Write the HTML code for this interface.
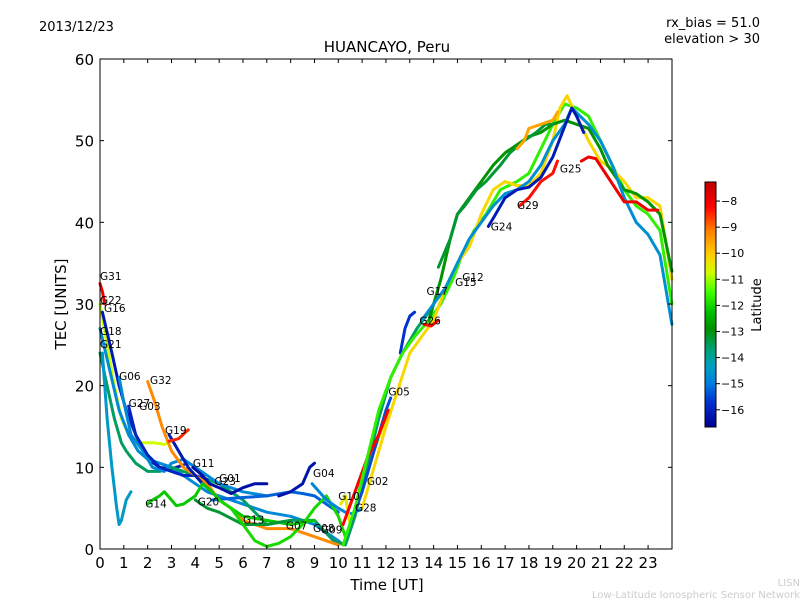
<!DOCTYPE html>
<html><head><meta charset="utf-8">
<style>
body{margin:0;background:#fff;}
svg{display:block;font-family:"DejaVu Sans","Liberation Sans",sans-serif;}
</style></head>
<body>
<svg id="chart" width="800" height="600" viewBox="0 0 800 600">
<defs>
<linearGradient id="cbar" x1="0" y1="1" x2="0" y2="0">
<stop offset="0" stop-color="#000090"/>
<stop offset="0.1" stop-color="#0030d0"/>
<stop offset="0.18" stop-color="#0080e0"/>
<stop offset="0.25" stop-color="#00a0c0"/>
<stop offset="0.32" stop-color="#00a070"/>
<stop offset="0.4" stop-color="#009000"/>
<stop offset="0.47" stop-color="#00c000"/>
<stop offset="0.55" stop-color="#40ff00"/>
<stop offset="0.63" stop-color="#d0ff00"/>
<stop offset="0.7" stop-color="#ffd000"/>
<stop offset="0.8" stop-color="#ff8000"/>
<stop offset="0.9" stop-color="#ff0000"/>
<stop offset="1" stop-color="#c00000"/>
</linearGradient>
</defs>
<text x="39" y="31" font-size="13">2013/12/23</text>
<text x="760" y="27" font-size="13" text-anchor="end">rx_bias = 51.0</text>
<text x="760" y="43" font-size="13" text-anchor="end">elevation &gt; 30</text>
<text x="387" y="52" font-size="15" text-anchor="middle">HUANCAYO, Peru</text>
<g id="marks"></g>
<g id="axes"></g>
<rect x="100" y="59" width="572" height="490" fill="none" stroke="#000" stroke-width="1"/>
<text x="387" y="590" font-size="15" text-anchor="middle">Time [UT]</text>
<text transform="translate(66,304) rotate(-90)" font-size="15" text-anchor="middle">TEC [UNITS]</text>
<rect x="705" y="182" width="11" height="245" fill="url(#cbar)" stroke="#000" stroke-width="1"/>
<g id="cbticks"></g>
<text transform="translate(761,305) rotate(-90)" font-size="13" text-anchor="middle">Latitude</text>
<text x="800" y="586" font-size="10" fill="#ccc" text-anchor="end">LISN</text>
<text x="800" y="598" font-size="10" fill="#ccc" text-anchor="end">Low-Latitude Ionospheric Sensor Network</text>
</svg>
<script>
const xTicks=[0,1,2,3,4,5,6,7,8,9,10,11,12,13,14,15,16,17,18,19,20,21,22,23];
const yTicks=[0,10,20,30,40,50,60];
const cbTicks=[-8,-9,-10,-11,-12,-13,-14,-15,-16];
const seriesLat=[-10.8,-16.2,-14.8,-13.6,-14.5,-14.8,-16.0,-15.3,-9.3,-16.2,-8.5,-12.2,-16.4,-13.3,-12.0,-16.3,-14.9,-10.5,-15.5,-8.2,-15.8,-11.7,-10.2,-12.9,-14.7,-13.3,-8.3,-16.2,-9.6,-8.0,-8.0,-8.3];
const seriesPts=[
[[0,30],[0.3,25],[0.6,20],[0.9,16],[1.2,14],[1.7,13],[2.3,13],[2.7,12.8],[3,13.2]],
[[0.1,29],[0.5,24],[0.8,20],[1.1,17],[1.5,14],[2,11],[2.5,10],[3,9.8],[3.5,10.3]],
[[0,27],[0.4,22],[0.8,17],[1.2,14],[1.6,12],[2,11],[2.5,10.5],[3,10],[3.5,9],[4,8],[4.5,7],[5,6.5],[6,5.5],[7,4.5],[8,4],[9,3],[10,1],[10.2,0.5]],
[[0,24],[0.3,20],[0.6,16],[0.9,13],[1.1,12],[1.5,10.5],[2,9.5],[2.5,9.5],[3,10],[3.5,9.5],[4,9],[5,8],[6,6],[7,3],[8,3.5],[9,3.5],[9.8,1],[10.3,0.5],[10.7,4],[11.2,10],[11.7,16],[12.2,21],[12.7,24],[13.3,27],[13.8,29]],
[[0.1,24],[0.3,16],[0.5,10],[0.7,5],[0.8,3],[0.9,3.5],[1.1,6],[1.3,7]],
[[0.8,21],[1,18],[1.3,14],[1.8,12],[2.2,10],[2.7,9.5],[3,10.5],[3.5,11],[4,10],[4.5,9],[5,8],[6,7],[7,6.5]],
[[1.2,17.5],[1.5,14],[2,11.5],[2.5,10],[3,9.5],[3.5,9],[4,9],[4.5,8.5]],
[[4.7,6],[5.5,6.2],[6,6.3],[7,6.5],[8,7],[8.5,6.8],[9,6.5],[9.5,5.5],[10,4.5]],
[[2,20.5],[2.3,18],[2.6,15],[3,12],[3.5,10],[4,9],[4.5,8],[5,6],[5.5,5],[6,3.5],[7,2.5],[8,2.5],[9,1.5],[10,0.5]],
[[2.9,14],[3.3,12],[3.7,10],[4,9],[4.3,8],[4.7,7]],
[[2.9,13.2],[3.3,13.5],[3.7,14.6]],
[[2,5.5],[2.2,6],[2.5,6.5],[2.7,7],[3,6],[3.2,5.3],[3.5,5.5],[4,6.5],[4.3,8],[4.7,7],[5,6],[5.5,5],[6,4],[7,3.5],[8,3],[9,3.5]],
[[3.9,10],[4.3,9],[4.6,8],[5,7.5],[5.5,6.8],[6,7.5],[6.5,8],[7,8]],
[[4,6],[4.5,5],[5,4.5],[6,3],[7,3],[8,3.5]],
[[5,6],[5.5,5],[6,3],[6.5,1],[7,0.3],[7.5,0.7],[8,1.5],[8.5,3],[9,5],[9.5,6.5],[10,4],[10.3,1.5]],
[[7.5,6.5],[8,7],[8.5,8],[8.8,10],[9,10.5]],
[[8.9,8],[9.2,7],[9.5,6],[10,5],[10.3,4.5],[10.6,4.3],[11,5]],
[[10.1,5.5],[10.3,6.5],[10.5,3],[11,7],[11.5,12],[12,16]],
[[10.5,3],[11,7],[11.5,12],[12,17],[12.2,18.5]],
[[10.2,3],[10.7,7],[11.2,11],[11.7,14],[12.1,17]],
[[12.6,24],[12.8,27],[13,28.5],[13.2,29]],
[[10.2,0.5],[10.7,5],[11.2,11],[11.7,17],[12.2,21],[12.7,24],[13.2,26],[13.8,28],[14.3,30],[14.8,33],[15.2,36],[15.7,39],[16.2,41],[16.8,44],[17.5,45],[18,46],[18.5,49],[19,52],[19.5,54.5],[20,54],[20.5,53],[21,50],[21.5,47],[22,44],[22.5,42],[23,41],[23.5,39],[24,30]],
[[11,5],[12,15],[13,24],[14,28],[14.5,32],[15,35],[15.5,37],[16,41],[16.5,44],[17,45],[17.5,44.5],[18,44.5],[18.5,46],[19,50],[19.3,54],[19.6,55.5],[20,53],[20.5,50],[21,47.5],[21.5,46.5],[22,45],[22.5,43],[23,43],[23.5,42],[24,33]],
[[13.8,28],[14.3,33],[14.7,38],[15,41],[15.5,43],[16,45],[16.5,47],[17,48.5],[17.5,49.5],[18,50.5],[18.5,51],[19,52],[19.5,52.5],[20,52],[20.5,51.5],[21,49],[21.3,47],[22,44],[22.5,43.5],[23,42.5],[23.5,41],[24,34]],
[[13.5,28],[14,30],[14.5,32],[15,35],[15.5,38],[16,40],[16.5,42],[17,43.5],[17.5,44],[18,45],[18.5,47],[19,50],[19.5,52],[19.8,54],[20.5,52],[21,50],[21.5,47],[22,43],[22.5,40],[23,38.5],[23.5,36],[24,27.5]],
[[14.2,34.5],[14.7,38],[15,41],[15.3,42],[15.8,44],[16.2,45],[16.8,47],[17.2,48.5],[17.8,50],[18.3,51],[18.7,52],[19,52]],
[[17.6,42],[18,43],[18.5,45],[19,46],[19.2,47.5]],
[[16.3,39.5],[16.6,41],[17,43],[17.5,44],[18,44.3],[18.5,45.5],[19,48],[19.4,51],[19.8,54],[20,53],[20.3,51]],
[[17.5,49],[17.8,50],[18,51.5],[18.5,52],[19,52.5],[19.2,53.5]],
[[20.2,47.5],[20.5,48],[20.8,47.8],[22,42.5],[22.5,42.5],[23,41.5],[23.4,41.5]],
[[0,32.5],[0.1,31.5],[0.2,30]],
[[13.6,27.5],[13.9,27.3],[14.2,28]]
];
const labelNames=["G31","G22","G16","G18","G21","G06","G32","G27","G03","G19","G11","G01","G23","G14","G20","G13","G07","G08","G09","G04","G10","G02","G28","G05","G26","G17","G15","G12","G24","G29","G25"];
const labelT=[0,0,0.17,0,0,0.8,2.1,1.2,1.64,2.73,3.9,5,4.8,1.9,4.1,6,7.8,8.94,9.27,8.94,10,11.2,10.7,12.1,13.4,13.7,14.9,15.2,16.4,17.5,19.3];
const labelV=[33.4,30.5,29.5,26.7,25.1,21.2,20.7,17.9,17.5,14.6,10.5,8.7,8.3,5.6,5.8,3.6,2.9,2.6,2.4,9.3,6.5,8.3,5.1,19.3,28,31.6,32.7,33.3,39.5,42.1,46.6];

const NS="http://www.w3.org/2000/svg";
function xs(t){return 100+t*23.83;}
function ys(v){return 549-v*8.167;}
function cby(l){return 182+(-7.27-l)/(9.39)*245;}
const cmap=[[-16.7,[0,0,144]],[-15.8,[0,48,208]],[-15,[0,128,224]],[-14.35,[0,160,192]],[-13.7,[0,160,112]],[-12.95,[0,144,0]],[-12.3,[0,192,0]],[-11.5,[64,255,0]],[-10.8,[208,255,0]],[-10.1,[255,208,0]],[-9.2,[255,128,0]],[-8.2,[255,0,0]],[-7.3,[192,0,0]]];
function color(l){
  for(let i=0;i<cmap.length-1;i++){
    const a=cmap[i],b=cmap[i+1];
    if(l>=a[0]&&l<=b[0]){const f=(l-a[0])/(b[0]-a[0]);
      const c=a[1].map((v,k)=>Math.round(v+(b[1][k]-v)*f));return `rgb(${c[0]},${c[1]},${c[2]})`;}
  }
  return l<-16.7?"rgb(0,0,144)":"rgb(192,0,0)";
}
const marks=document.getElementById('marks');
seriesPts.forEach((pts,i)=>{
  const p=document.createElementNS(NS,'polyline');
  p.setAttribute('points',pts.map(q=>xs(q[0]).toFixed(1)+','+ys(q[1]).toFixed(1)).join(' '));
  p.setAttribute('fill','none');
  p.setAttribute('stroke',color(seriesLat[i]));
  p.setAttribute('stroke-width','3');
  p.setAttribute('stroke-linejoin','round');
  p.setAttribute('stroke-linecap','round');
  
  
  marks.appendChild(p);
});
labelNames.forEach((n,i)=>{
  const t=document.createElementNS(NS,'text');
  t.setAttribute('x',xs(labelT[i]));
  t.setAttribute('y',ys(labelV[i])+4);
  t.setAttribute('font-size','10.5');
  t.textContent=n;
  
  
  marks.appendChild(t);
});
const axes=document.getElementById('axes');
xTicks.forEach(t=>{
  const x=xs(t);
  [[549,545],[59,63]].forEach(([a,b])=>{
    const l=document.createElementNS(NS,'line');
    l.setAttribute('x1',x);l.setAttribute('x2',x);l.setAttribute('y1',a);l.setAttribute('y2',b);l.setAttribute('stroke','#000');
    
    
    axes.appendChild(l);
  });
  const tx=document.createElementNS(NS,'text');
  tx.setAttribute('x',x);tx.setAttribute('y',568);tx.setAttribute('font-size','15');tx.setAttribute('text-anchor','middle');
  tx.textContent=t;
  
  
  axes.appendChild(tx);
});
yTicks.forEach(v=>{
  const y=ys(v);
  [[100,104],[672,668]].forEach(([a,b])=>{
    const l=document.createElementNS(NS,'line');
    l.setAttribute('x1',a);l.setAttribute('x2',b);l.setAttribute('y1',y);l.setAttribute('y2',y);l.setAttribute('stroke','#000');
    
    
    axes.appendChild(l);
  });
  const tx=document.createElementNS(NS,'text');
  tx.setAttribute('x',94);tx.setAttribute('y',y+6);tx.setAttribute('font-size','15');tx.setAttribute('text-anchor','end');
  tx.textContent=v;
  
  
  axes.appendChild(tx);
});
const cbt=document.getElementById('cbticks');
cbTicks.forEach(v=>{
  const y=cby(v);
  const l=document.createElementNS(NS,'line');
  l.setAttribute('x1',716);l.setAttribute('x2',720);l.setAttribute('y1',y);l.setAttribute('y2',y);l.setAttribute('stroke','#000');
  
  
  cbt.appendChild(l);
  const tx=document.createElementNS(NS,'text');
  tx.setAttribute('x',721);tx.setAttribute('y',y+4);tx.setAttribute('font-size','11');
  tx.textContent='\u2212'+Math.abs(v);
  
  
  cbt.appendChild(tx);
});
</script>
</body></html>
